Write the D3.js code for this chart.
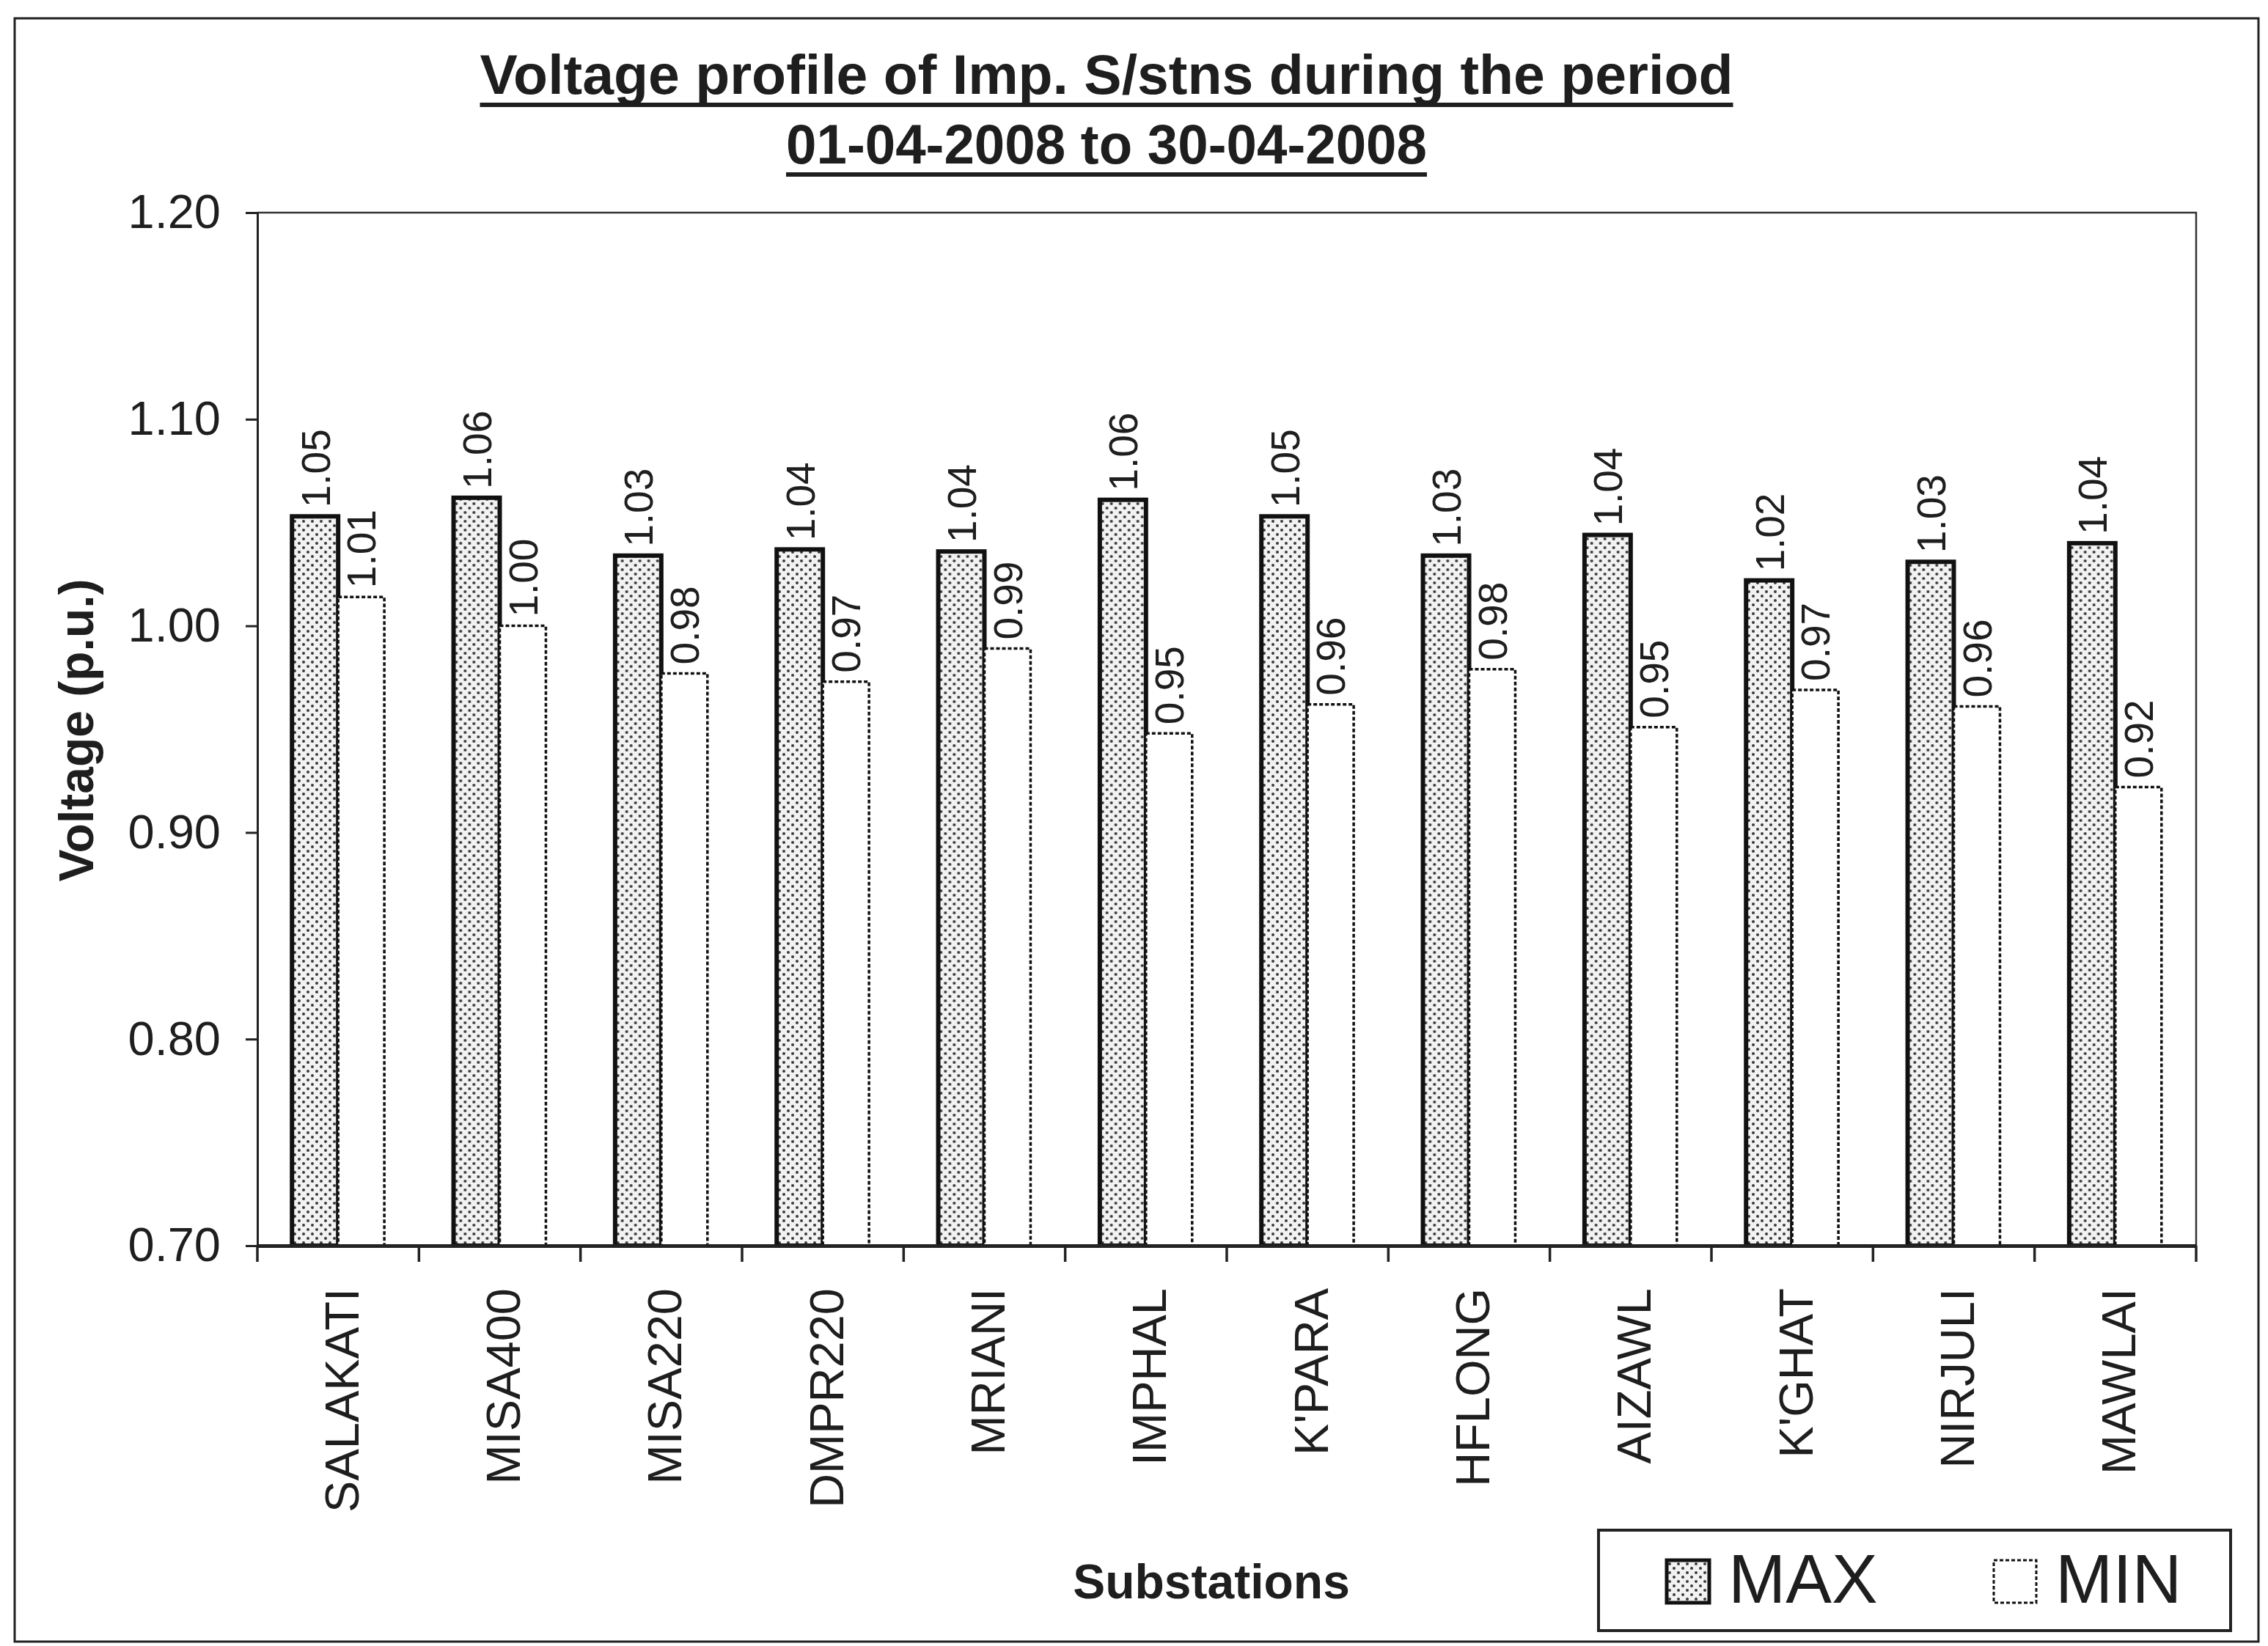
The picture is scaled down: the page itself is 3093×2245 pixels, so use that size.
<!DOCTYPE html>
<html>
<head>
<meta charset="utf-8">
<script src="https://cdn.jsdelivr.net/npm/d3@7"></script>
<style>
  body { margin: 0; background: #fff; }
  svg { display: block; }
  text { font-family: "Liberation Sans", Arial, Helvetica, sans-serif; fill: #1e1e1e; }
</style>
</head>
<body>
<svg id="chart" width="3093" height="2245"></svg>
<script>
// data
var stations = ["SALAKATI", "MISA400", "MISA220", "DMPR220", "MRIANI", "IMPHAL",
                "K'PARA", "HFLONG", "AIZAWL", "K'GHAT", "NIRJULI", "MAWLAI"];
var maxVolt = [1.053, 1.062, 1.034, 1.037, 1.036, 1.061, 1.053, 1.034, 1.044, 1.022, 1.031, 1.040];
var minVolt = [1.014, 1.000, 0.977, 0.973, 0.989, 0.948, 0.962, 0.979, 0.951, 0.969, 0.961, 0.922];
var seriesNames = ["MAX", "MIN"];
var yTicks = [0.70, 0.80, 0.90, 1.00, 1.10, 1.20];
var titleLines = ["Voltage profile of Imp. S/stns during the period", "01-04-2008 to 30-04-2008"];

var svg = d3.select("#chart");
var plotLeft = 351, plotRight = 2995, plotTop = 290, plotBottom = 1699;

// stipple pattern for the MAX bars
var defs = svg.append("defs");
var pat = defs.append("pattern")
    .attr("id", "dots")
    .attr("patternUnits", "userSpaceOnUse")
    .attr("width", 12).attr("height", 12);
pat.append("rect").attr("width", 12).attr("height", 12).attr("fill", "#f2f2f2");
pat.append("circle").attr("cx", 3).attr("cy", 3).attr("r", 2).attr("fill", "#3a3a3a");
pat.append("circle").attr("cx", 9).attr("cy", 9).attr("r", 2).attr("fill", "#3a3a3a");

// outer frame
svg.append("rect")
    .attr("x", 20).attr("y", 25)
    .attr("width", 3060).attr("height", 2214)
    .attr("fill", "none").attr("stroke", "#222").attr("stroke-width", 3);

// title
var titleY = [128, 223];
var titleW = [1709, 874];
titleLines.forEach(function (t, i) {
    svg.append("text")
        .attr("x", 1509).attr("y", titleY[i])
        .attr("text-anchor", "middle")
        .attr("font-size", 76)
        .attr("font-weight", "bold")
        .attr("textLength", titleW[i])
        .attr("lengthAdjust", "spacingAndGlyphs")
        .text(t);
    svg.append("line")
        .attr("x1", 1509 - titleW[i] / 2).attr("x2", 1509 + titleW[i] / 2)
        .attr("y1", titleY[i] + 15).attr("y2", titleY[i] + 15)
        .attr("stroke", "#1e1e1e").attr("stroke-width", 6);
});

var x0 = d3.scaleBand().domain(stations).range([plotLeft, plotRight]).padding(0);
var x1 = d3.scaleBand().domain(seriesNames).range([0, x0.bandwidth()])
    .paddingInner(0).paddingOuter(0.75);
var y = d3.scaleLinear().domain([0.70, 1.20]).range([plotBottom, plotTop]);

// plot frame (top and right)
svg.append("path")
    .attr("d", "M" + plotLeft + "," + plotTop + "H" + plotRight + "V" + plotBottom)
    .attr("fill", "none").attr("stroke", "#333").attr("stroke-width", 2.5);

// y axis
var yAxis = svg.append("g")
    .attr("transform", "translate(" + plotLeft + ",0)")
    .call(d3.axisLeft(y).tickValues(yTicks).tickFormat(d3.format(".2f"))
        .tickSize(16).tickPadding(34));
yAxis.select(".domain").attr("stroke", "#222").attr("stroke-width", 3);
yAxis.selectAll(".tick line").attr("stroke", "#222").attr("stroke-width", 3);
yAxis.selectAll(".tick text").attr("font-size", 65).attr("font-family", null).attr("fill", "#1e1e1e");

// bars
var rows = stations.map(function (s, i) {
    return { name: s, values: [{ key: "MAX", v: maxVolt[i] }, { key: "MIN", v: minVolt[i] }] };
});
var groups = svg.append("g").selectAll("g")
    .data(rows).enter().append("g")
    .attr("transform", function (d) { return "translate(" + x0(d.name) + ",0)"; });

groups.selectAll("rect")
    .data(function (d) { return d.values; })
    .enter().append("rect")
    .attr("x", function (d) { return x1(d.key); })
    .attr("y", function (d) { return y(d.v); })
    .attr("width", x1.bandwidth())
    .attr("height", function (d) { return plotBottom - y(d.v); })
    .attr("fill", function (d) { return d.key == "MAX" ? "url(#dots)" : "#fff"; })
    .attr("stroke", "#111")
    .attr("stroke-width", function (d) { return d.key == "MAX" ? 6 : 3.5; })
    .attr("stroke-dasharray", function (d) { return d.key == "MAX" ? null : "5,3"; });

// value labels
groups.selectAll("text")
    .data(function (d) { return d.values; })
    .enter().append("text")
    .attr("transform", function (d) {
        return "translate(" + (x1(d.key) + x1.bandwidth() / 2) + "," + (y(d.v) - 12) + ") rotate(-90)";
    })
    .attr("dy", "0.36em")
    .attr("font-size", 55)
    .text(function (d) { return d3.format(".2f")(d.v); });

// x axis
var xAxis = svg.append("g")
    .attr("transform", "translate(0," + plotBottom + ")")
    .call(d3.axisBottom(x0).tickSize(0).tickSizeOuter(0));
xAxis.select(".domain").attr("stroke", "#222").attr("stroke-width", 5);
xAxis.selectAll(".tick text")
    .attr("font-size", 65).attr("font-family", null).attr("fill", "#1e1e1e")
    .attr("text-anchor", "end")
    .attr("transform", "translate(4,58) rotate(-90)")
    .attr("x", 0).attr("y", 0).attr("dy", "0.36em");

// boundary ticks between categories
svg.append("g").selectAll("line")
    .data(d3.range(stations.length + 1))
    .enter().append("line")
    .attr("x1", function (i) { return plotLeft + i * x0.step(); })
    .attr("x2", function (i) { return plotLeft + i * x0.step(); })
    .attr("y1", plotBottom).attr("y2", plotBottom + 22)
    .attr("stroke", "#222").attr("stroke-width", 3.5);

// axis titles
svg.append("text")
    .attr("transform", "translate(127,996) rotate(-90)")
    .attr("text-anchor", "middle")
    .attr("font-size", 66).attr("font-weight", "bold")
    .text("Voltage (p.u.)");

svg.append("text")
    .attr("x", 1652).attr("y", 2180)
    .attr("text-anchor", "middle")
    .attr("font-size", 66).attr("font-weight", "bold")
    .text("Substations");

// legend
var legend = svg.append("g");
legend.append("rect")
    .attr("x", 2180).attr("y", 2087).attr("width", 862).attr("height", 137)
    .attr("fill", "#fff").attr("stroke", "#222").attr("stroke-width", 4);
var legX = [2273, 2719];
seriesNames.forEach(function (s, i) {
    legend.append("rect")
        .attr("x", legX[i]).attr("y", 2128).attr("width", 58).attr("height", 58)
        .attr("fill", s == "MAX" ? "url(#dots)" : "#fff")
        .attr("stroke", "#111")
        .attr("stroke-width", s == "MAX" ? 5 : 3)
        .attr("stroke-dasharray", s == "MAX" ? null : "5,3");
    legend.append("text")
        .attr("x", legX[i] + 84).attr("y", 2186)
        .attr("font-size", 94)
        .text(s);
});
</script>
</body>
</html>
